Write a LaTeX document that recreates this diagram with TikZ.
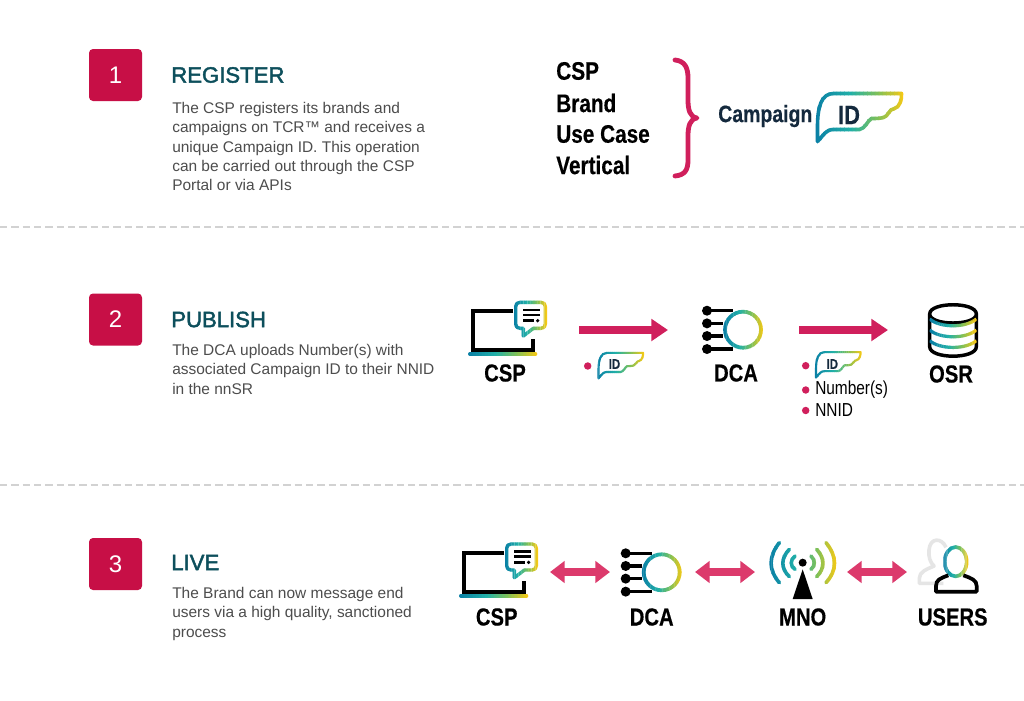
\documentclass[tikz,border=0pt]{standalone}
\usepackage{fontspec}
\setmainfont{Liberation Sans}
\newfontfamily\lblfont[FakeStretch=0.82,BoldFeatures={FakeBold=0.35}]{Liberation Sans}
\newfontfamily\headfont[FakeBold=2.0]{Liberation Sans}
\usetikzlibrary{arrows.meta}
\definecolor{gA}{HTML}{0A7FA5}
\definecolor{gB}{HTML}{22B0A8}
\definecolor{gC}{HTML}{7CC05A}
\definecolor{gD}{HTML}{F6C915}
\definecolor{crim}{HTML}{C70F46}
\definecolor{pinkA}{HTML}{D01F5C}
\definecolor{pinkB}{HTML}{DC3A6C}
\definecolor{headc}{HTML}{0D4F5C}
\definecolor{bodyc}{HTML}{4D4D4D}
\definecolor{navy}{HTML}{14293D}
\definecolor{dashc}{HTML}{D2D2D2}
\newcommand{\gradstroke}[4][]{%
  \foreach \gi in {0,...,23}{%
    \pgfmathsetmacro\gxa{#2+(#3-#2)*\gi/24}%
    \pgfmathsetmacro\gxb{#2+(#3-#2)*(\gi+1.15)/24}%
    \pgfmathsetmacro\gT{\gi/23*100}%
    \pgfmathparse{\gT<40?1:(\gT<70?2:3)}%
    \ifnum\pgfmathresult=1 \pgfmathsetmacro\gP{(40-\gT)/40*100}\colorlet{gc}{gA!\gP!gB}\fi
    \pgfmathparse{\gT<40?1:(\gT<70?2:3)}%
    \ifnum\pgfmathresult=2 \pgfmathsetmacro\gP{(70-\gT)/30*100}\colorlet{gc}{gB!\gP!gC}\fi
    \pgfmathparse{\gT<40?1:(\gT<70?2:3)}%
    \ifnum\pgfmathresult=3 \pgfmathsetmacro\gP{(100-\gT)/30*100}\colorlet{gc}{gC!\gP!gD}\fi
    \begin{scope}
      \clip (\gxa,-900) rectangle (\gxb,900);
      \draw[gc,#1] #4;
    \end{scope}
  }%
}
% ID wing: origin = lower-left end of the outline, units px times scale
\newcommand{\idwing}[4]{%
  \begin{scope}[shift={(#1,#2)},x=#3*0.75pt,y=-#3*0.75pt]
    \gradstroke[line width=#4,line cap=round,line join=round]{-4}{88}{%
      (0,0) -- (0,-15) .. controls (0,-35) and (4,-48) .. (16,-48) -- (84,-48)
      .. controls (84.5,-42) and (82,-34) .. (77,-33) .. controls (71,-32.5) and (71,-25) .. (66,-24)
      .. controls (62,-23) and (58,-23) .. (54,-23) .. controls (50,-21) and (48,-13) .. (42,-12)
      -- (16,-12) .. controls (8,-12) and (6,-6) .. (0,0)}
  \end{scope}}
% laptop, coordinates of the 3x view
\newcommand{\laptop}[2]{%
  \begin{scope}[shift={(#1,#2)},x=0.25pt,y=-0.25pt]
    \draw[line width=3pt] (160,63) -- (40,63) -- (40,180) -- (218,180) -- (218,148);
    \gradstroke[line width=3pt,line cap=round]{20}{235}{(30,192) -- (226,192)}
    \gradstroke[line width=2.5pt,line join=round]{160}{262}{%
      (220,115) -- (190,138) -- (190,115) -- (180,115)
      .. controls (172,115) and (167,110) .. (167,102) -- (167,50)
      .. controls (167,42) and (172,37) .. (180,37) -- (243,37)
      .. controls (251,37) and (256,42) .. (256,50) -- (256,102)
      .. controls (256,110) and (251,115) .. (243,115) -- cycle}
    \draw[line width=2.2pt] (190,60) -- (240,60) (190,75) -- (240,75) (190,92) -- (222,92);
    \fill (233,92) circle (5.5);
  \end{scope}}
% DCA hub, origin = first dot
\newcommand{\dcahub}[2]{%
  \begin{scope}[shift={(#1,#2)},x=0.25pt,y=-0.25pt]
    \draw[line width=2.4pt] (0,0) -- (78,0) (0,38) -- (48,38) (0,76) -- (48,76) (0,115) -- (78,115);
    \foreach \dy in {0,38,76,115} \fill (0,\dy) circle (15);
    \gradstroke[line width=2.8pt]{48}{172}{(108,57) circle [radius=54]}
  \end{scope}}
\tikzset{
  numbox/.style={fill=crim,rounded corners=3pt,minimum width=39.75pt,minimum height=39pt,inner sep=0pt,text=white,font=\fontsize{18}{18}\selectfont},
  heading/.style={anchor=west,inner sep=0pt,text=headc,font=\headfont\fontsize{16.6}{18}\selectfont},
  bodytxt/.style={anchor=north west,inner sep=0pt,align=left,text=bodyc,font=\fontsize{11.6}{14.5}\selectfont},
  bigtxt/.style={anchor=west,inner sep=0pt,font=\lblfont\bfseries\fontsize{19}{19}\selectfont},
  iconlabel/.style={inner sep=0pt,font=\lblfont\bfseries\fontsize{18.5}{19}\selectfont},
  smalllabel/.style={anchor=west,inner sep=0pt,font=\lblfont\fontsize{14.1}{14}\selectfont},
  idsmall/.style={inner sep=0pt,text=navy,font=\lblfont\bfseries\fontsize{10.5}{11}\selectfont},
  bulletdot/.style={circle,fill=pinkA,inner sep=0pt,minimum size=5.6pt},
  divider/.style={dashc,line width=1.1pt,dash pattern=on 5.5pt off 3pt},
  pubarrow/.style={pinkA,line width=6pt,-{Triangle[length=12.5pt,width=16pt]}},
  liveconn/.style={pinkB,line width=5.5pt,{Triangle[length=11pt,width=16pt]}-{Triangle[length=11pt,width=16pt]}},
  bracestroke/.style={pinkA,line width=3.6pt,line cap=round,line join=round}
}
\begin{document}
\begin{tikzpicture}[x=0.75pt,y=-0.75pt]
\useasboundingbox (0,0) rectangle (1024,700);
\fill[white] (0,0) rectangle (1024,700);
% dividers
\coordinate (d1a) at (0,227); \coordinate (d1b) at (1024,227);
\coordinate (d2a) at (0,485); \coordinate (d2b) at (1024,485);
\draw[divider] (d1a) -- (d1b);
\draw[divider] (d2a) -- (d2b);
% left column
\node[numbox] (n1) at (115.5,75) {1};
\node[numbox] (n2) at (115.5,319.5) {2};
\node[numbox] (n3) at (115.5,564) {3};
\node[heading] (h1) at (171,75) {REGISTER};
\node[heading] (h2) at (171,319.5) {PUBLISH};
\node[heading] (h3) at (171,562.5) {LIVE};
\node[bodytxt] (b1) at (172,102) {The CSP registers its brands and\\campaigns on TCR™ and receives a\\unique Campaign ID. This operation\\can be carried out through the CSP\\Portal or via APIs};
\node[bodytxt] (b2) at (172,344) {The DCA uploads Number(s) with\\associated Campaign ID to their NNID\\in the nnSR};
\node[bodytxt] (b3) at (172,587) {The Brand can now message end\\users via a high quality, sanctioned\\process};
% step 1 right
\node[bigtxt] (t1) at (556,71) {CSP};
\node[bigtxt] (t2) at (556,103) {Brand};
\node[bigtxt] (t3) at (556,134) {Use Case};
\node[bigtxt] (t4) at (556,165) {Vertical};
\draw[bracestroke] (675,60) .. controls (685,61) and (688,68) .. (688,78) -- (688,100)
  .. controls (688,110) and (690,117) .. (697,118) .. controls (690,119) and (688,126) .. (688,136)
  -- (688,160) .. controls (688,170) and (685,175) .. (675,176);
\node[inner sep=0pt,anchor=west,text=navy,font=\lblfont\bfseries\fontsize{17.8}{18}\selectfont] (camp) at (718,116) {Campaign};
\idwing{817.5}{141.5}{1}{2.7pt}
\node[inner sep=0pt,text=navy,font=\lblfont\bfseries\fontsize{20}{20}\selectfont] (bigid) at (849,115) {ID};
% step 2
\laptop{460}{290}
\node[iconlabel] (csp2) at (505,373) {CSP};
\coordinate (a1s) at (579,330); \coordinate (a1e) at (668,330);
\draw[pubarrow] (a1s) -- (a1e);
\node[bulletdot] (bu1) at (587.7,366) {};
\idwing{598.5}{378.3}{0.53}{1.6pt}
\node[idsmall] (id1) at (614.5,364) {ID};
\dcahub{707}{310.7}
\node[iconlabel] (dca2) at (736,373) {DCA};
\coordinate (a2s) at (799,330); \coordinate (a2e) at (888,330);
\draw[pubarrow] (a2s) -- (a2e);
\node[bulletdot] (bu2) at (805.7,365.7) {};
\idwing{816}{377.5}{0.53}{1.6pt}
\node[idsmall] (id2) at (832.3,364) {ID};
\node[bulletdot] (bu3) at (805.7,390) {};
\node[smalllabel] (num) at (815,390) {Number(s)};
\node[bulletdot] (bu4) at (805.7,410.5) {};
\node[smalllabel] (nnid) at (815,410) {NNID};
% OSR cylinder
\begin{scope}[shift={(780,290)},x=0.25pt,y=-0.25pt]
  \draw[line width=2.6pt,line join=round] (449,72) .. controls (449,35) and (589,35) .. (589,72)
    .. controls (589,108) and (449,108) .. (449,72) -- (449,170)
    .. controls (449,208) and (589,208) .. (589,170) -- (589,72);
  \gradstroke[line width=2.4pt]{449}{589}{(449,87) .. controls (480,114) and (558,114) .. (589,87)}
  \gradstroke[line width=2.4pt]{449}{589}{(449,120) .. controls (480,147) and (558,147) .. (589,120)}
  \gradstroke[line width=2.4pt]{449}{589}{(449,152) .. controls (480,179) and (558,179) .. (589,152)}
\end{scope}
\node[iconlabel] (osr) at (951,374) {OSR};
% step 3
\laptop{451}{531.7}
\node[iconlabel] (csp3) at (496.7,617) {CSP};
\coordinate (c1s) at (550,572); \coordinate (c1e) at (610,572);
\draw[liveconn] (c1s) -- (c1e);
\dcahub{625.7}{553.3}
\node[iconlabel] (dca3) at (651.7,617) {DCA};
\coordinate (c2s) at (695,572); \coordinate (c2e) at (755,572);
\draw[liveconn] (c2s) -- (c2e);
\begin{scope}[shift={(730,530)},x=0.25pt,y=-0.25pt]
  \gradstroke[line width=2.7pt,line cap=round]{115}{325}{%
    (148,38) .. controls (115,80) and (115,120) .. (148,158)
    (178,58) .. controls (152,85) and (152,115) .. (178,140)
    (195,78) .. controls (180,90) and (180,108) .. (195,118)
    (288,38) .. controls (322,80) and (322,120) .. (288,158)
    (260,58) .. controls (285,85) and (285,115) .. (260,140)
    (243,78) .. controls (256,90) and (256,108) .. (243,118)}
  \fill (218,98) circle (12);
  \fill (218,118) -- (248,207) -- (188,207) -- cycle;
\end{scope}
\node[iconlabel] (mno) at (802.7,617) {MNO};
\coordinate (c3s) at (847,572); \coordinate (c3e) at (907,572);
\draw[liveconn] (c3s) -- (c3e);
\begin{scope}[shift={(730,530)},x=0.25pt,y=-0.25pt]
  \draw[black!10,line width=2.7pt,line join=round] (648,52) .. controls (635,22) and (600,22) .. (597,60)
    .. controls (595,80) and (600,97) .. (612,108) .. controls (590,118) and (568,125) .. (568,145)
    -- (568,160) -- (640,160);
  \gradstroke[line width=2.7pt]{640}{716}{(677,95) ellipse [x radius=33,y radius=44]}
  \draw[line width=2.8pt,line join=round] (655,136) .. controls (630,145) and (618,150) .. (618,168)
    -- (618,185) -- (740,185) -- (740,168) .. controls (740,150) and (725,145) .. (700,136);
\end{scope}
\node[iconlabel] (users) at (952.7,617) {USERS};
\end{tikzpicture}
\end{document}
